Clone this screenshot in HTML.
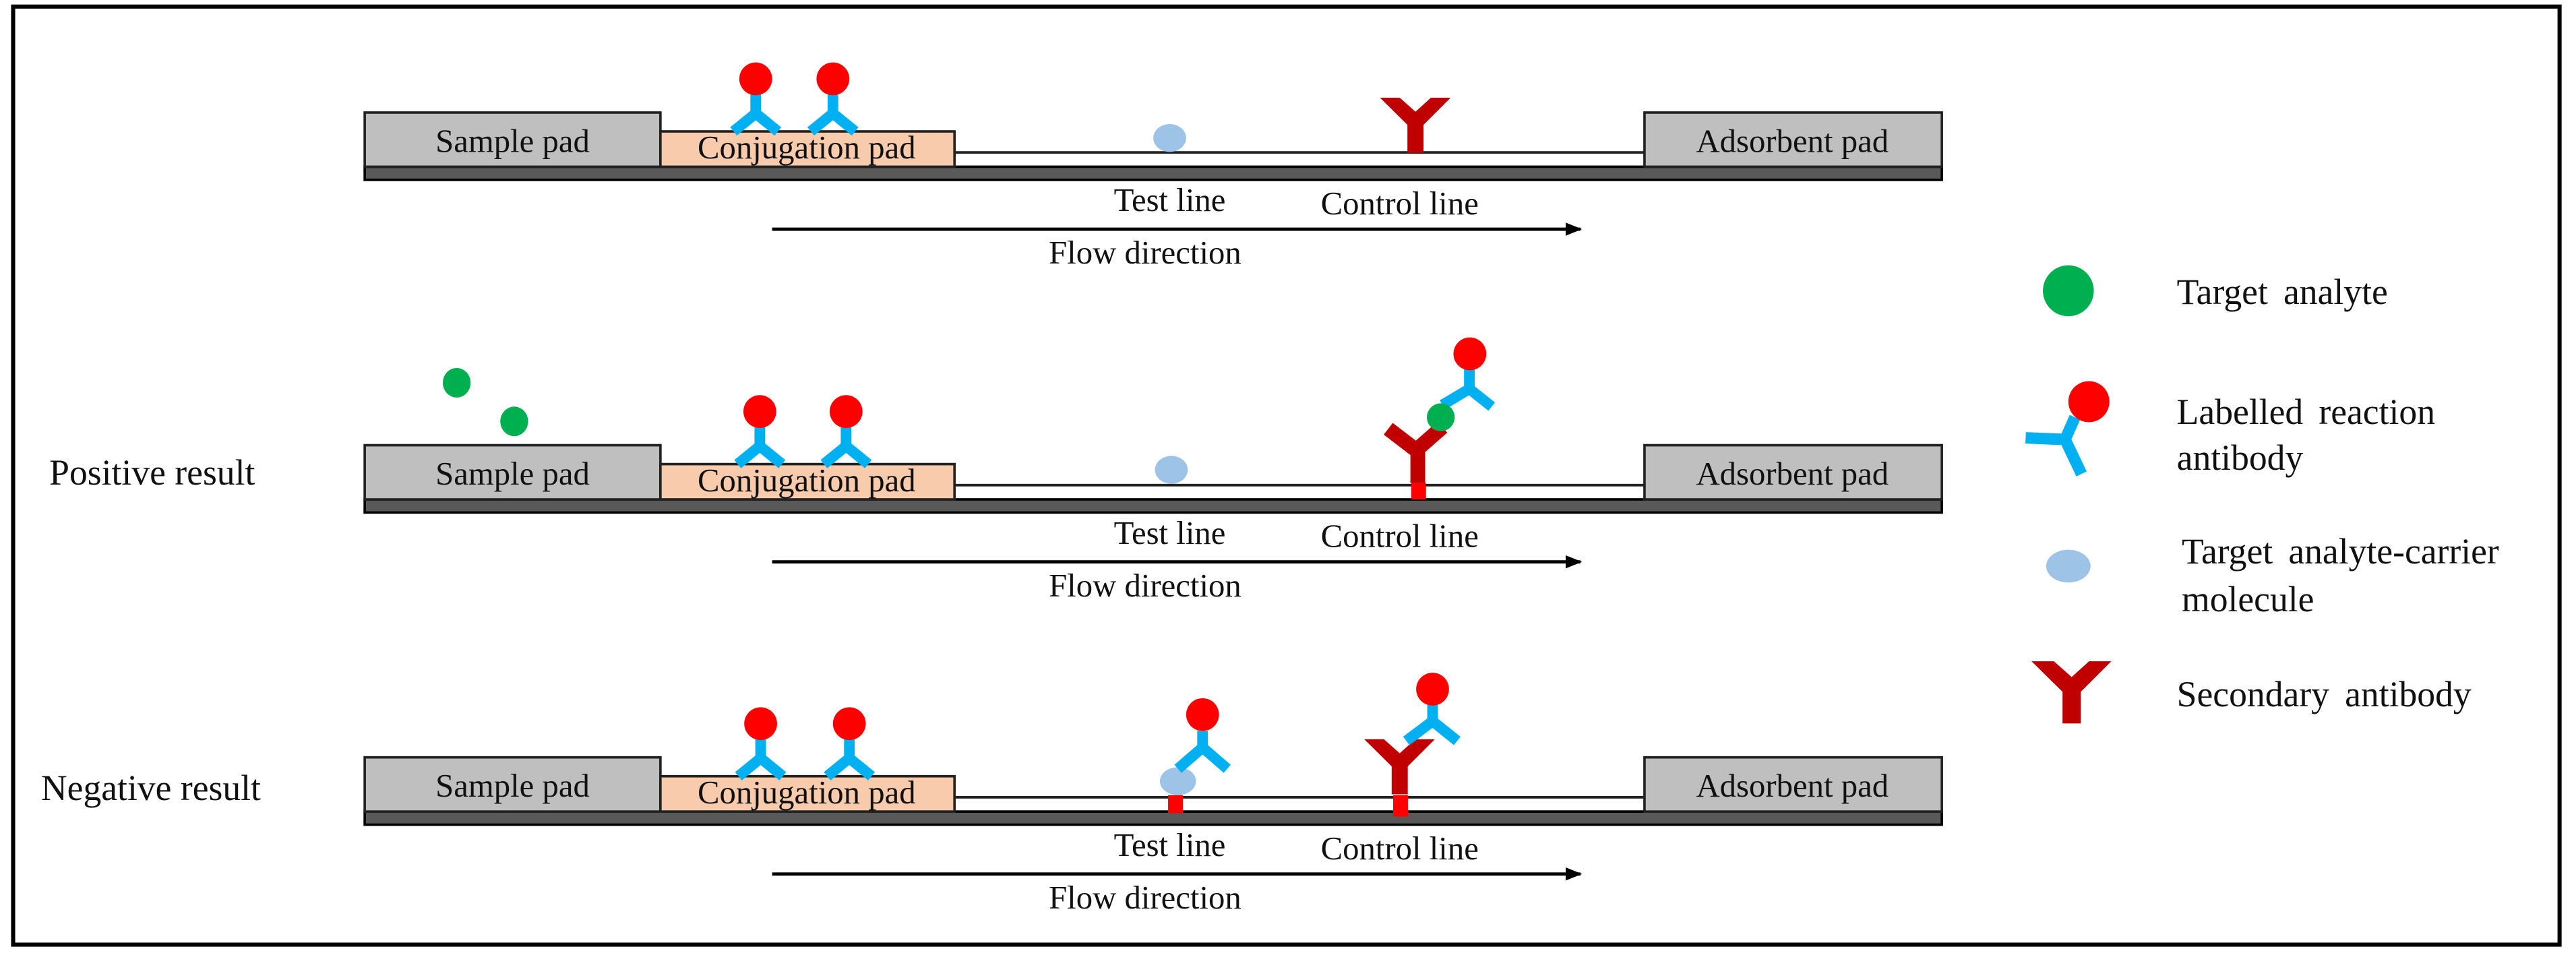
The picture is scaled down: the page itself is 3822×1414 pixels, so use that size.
<!DOCTYPE html>
<html><head><meta charset="utf-8"><style>
html,body{margin:0;padding:0;background:#fff;}
svg{display:block;}
text{font-family:"Liberation Serif","Times New Roman",serif;fill:#111;}
</style></head><body>
<svg width="3822" height="1414" viewBox="0 0 1568 580.1" preserveAspectRatio="none" xmlns="http://www.w3.org/2000/svg" font-family="Liberation Serif, serif">
<defs>
<marker id="ah" markerWidth="10" markerHeight="8" refX="9" refY="4" orient="auto" markerUnits="userSpaceOnUse"><path d="M0,0 L10,4 L0,8 Z" fill="#000"/></marker>
<g id="strip">
  <rect x="222" y="33" width="960" height="8" fill="#595959" stroke="#000" stroke-width="1.5"/>
  <line x1="581" y1="24.3" x2="1001" y2="24.3" stroke="#222" stroke-width="1.6"/>
  <rect x="222" y="0" width="180" height="33" fill="#bfbfbf" stroke="#222" stroke-width="1.5"/>
  <rect x="402" y="11.5" width="179" height="21.5" fill="#f8cbad" stroke="#222" stroke-width="1.5"/>
  <rect x="1001" y="0" width="181" height="33" fill="#bfbfbf" stroke="#222" stroke-width="1.5"/>
  <text x="312" y="24" font-size="20" text-anchor="middle">Sample pad</text>
  <text x="491" y="28" font-size="20" text-anchor="middle">Conjugation pad</text>
  <text x="1091" y="24" font-size="20" text-anchor="middle">Adsorbent pad</text>
  <line x1="470" y1="71" x2="962" y2="71" stroke="#000" stroke-width="2" marker-end="url(#ah)"/>
  <text x="712" y="60" font-size="20" text-anchor="middle">Test line</text>
  <text x="852" y="62" font-size="20" text-anchor="middle">Control line</text>
  <text x="697" y="92" font-size="20" text-anchor="middle">Flow direction</text>
</g>
<g id="ab">
  <path d="M0,-11 L0,0.5 M-13.5,11.5 L0,0.5 L13.5,11.5" stroke="#00b0f0" stroke-width="6.5" fill="none"/>
  <circle cx="0" cy="-20.5" r="10" fill="#ff0000"/>
</g>
<path id="Y" d="M-21.6,0 L-9.6,0 L0,8.5 L9.4,0 L21.4,0 L4.9,16.5 L4.9,33.5 L-4.9,33.5 L-4.9,16.5 Z" fill="#c00000"/>
</defs>

<rect x="8" y="4" width="1550" height="571" fill="none" stroke="#000" stroke-width="2.5"/>

<!-- Row 1 -->
<g transform="translate(0,68.5)">
  <use href="#strip"/>
  <use href="#ab" x="460" y="0"/>
  <use href="#ab" x="507" y="0"/>
  <ellipse cx="712" cy="15.5" rx="10" ry="8.5" fill="#9dc3e6"/>
  <use href="#Y" x="861.6" y="-9"/>
</g>

<!-- Row 2 -->
<text x="30" y="295" font-size="22">Positive result</text>
<g transform="translate(0,271)">
  <use href="#strip"/>
  <use href="#ab" x="462.5" y="0"/>
  <use href="#ab" x="515" y="0"/>
  <ellipse cx="713" cy="15" rx="10" ry="8.5" fill="#9dc3e6"/>
  <rect x="859" y="23" width="9" height="10" fill="#ff0000"/>
  <path d="M863,23 L863,3 M845,-10 L862,3 M862,3 L878,-11" stroke="#c00000" stroke-width="9" fill="none"/>
</g>
<ellipse cx="278" cy="233" rx="8.5" ry="9" fill="#00b050"/>
<ellipse cx="313" cy="256.5" rx="8.5" ry="9" fill="#00b050"/>
<path d="M894.4,222 L894.4,236.7 M878,246.5 L894.4,236.7 L908,247.5" stroke="#00b0f0" stroke-width="6.5" fill="none"/>
<circle cx="894.7" cy="215.4" r="10" fill="#ff0000"/>
<circle cx="877" cy="254" r="8.5" fill="#00b050"/>

<!-- Row 3 -->
<text x="25" y="487" font-size="22">Negative result</text>
<g transform="translate(0,461)">
  <use href="#strip"/>
  <use href="#ab" x="463" y="0"/>
  <use href="#ab" x="517" y="0"/>
  <rect x="711" y="23" width="9" height="11" fill="#ff0000"/>
  <ellipse cx="717" cy="14.5" rx="11" ry="8.5" fill="#9dc3e6"/>
  <path d="M732,-16 L732,-6 M717,7 L732,-6 L747,7" stroke="#00b0f0" stroke-width="6.5" fill="none"/>
  <circle cx="732" cy="-26" r="10" fill="#ff0000"/>
  <rect x="848" y="23" width="9" height="13" fill="#ff0000"/>
  <use href="#Y" x="852" y="-11"/>
  <path d="M872,-32 L872,-22 M856,-10 L872,-22 L887,-10" stroke="#00b0f0" stroke-width="6.5" fill="none"/>
  <circle cx="872" cy="-41.5" r="10" fill="#ff0000"/>
</g>

<!-- Legend -->
<circle cx="1259" cy="177" r="15.5" fill="#00b050"/>
<text x="1325" y="185" font-size="22" word-spacing="4">Target analyte</text>

<path d="M1263,254 L1257,267.5 M1233,266.5 L1257,267.5 L1267,288.5" stroke="#00b0f0" stroke-width="7" fill="none"/>
<circle cx="1271.5" cy="244.5" r="12.5" fill="#ff0000"/>
<text x="1325" y="258" font-size="22" word-spacing="4">Labelled reaction</text>
<text x="1325" y="286" font-size="22">antibody</text>

<ellipse cx="1259" cy="344.6" rx="13.5" ry="10" fill="#9dc3e6"/>
<text x="1328" y="343" font-size="22" word-spacing="4">Target analyte-carrier</text>
<text x="1328" y="372" font-size="22">molecule</text>

<use href="#Y" transform="translate(1261,402.5) scale(1.13)"/>
<text x="1325" y="430" font-size="22" word-spacing="4">Secondary antibody</text>
</svg>
</body></html>
